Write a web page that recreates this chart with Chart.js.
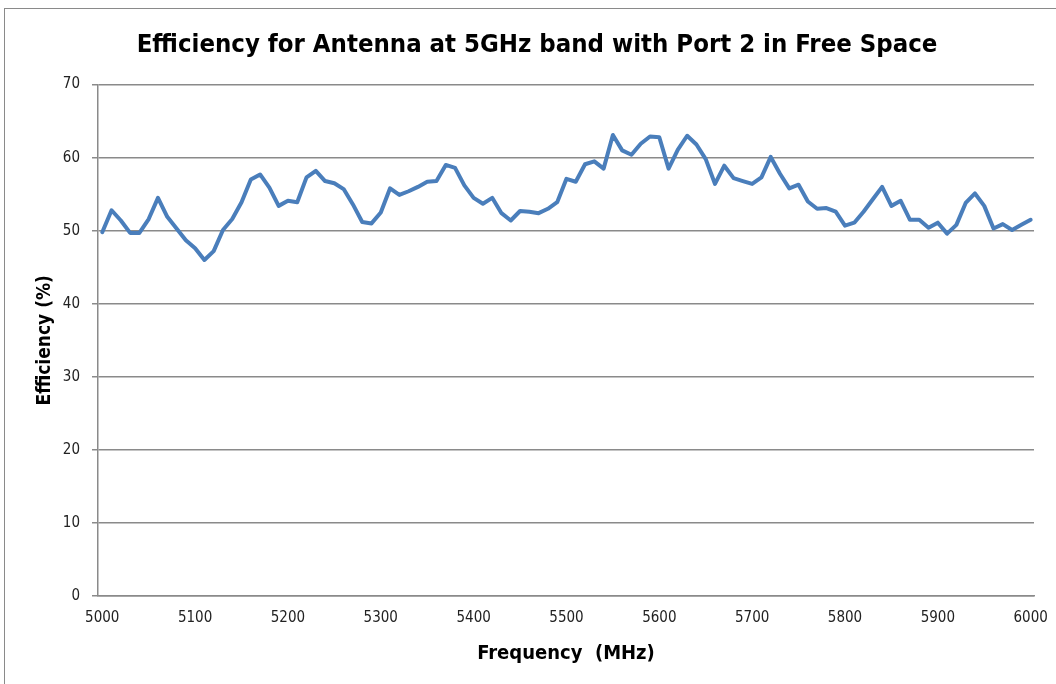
<!DOCTYPE html>
<html>
<head>
<meta charset="utf-8">
<script src="https://cdn.jsdelivr.net/npm/chart.js@4/dist/chart.umd.min.js"></script>
<style>
  html, body { margin: 0; padding: 0; background: #fff; overflow: hidden; }
  #wrap { position: relative; width: 1056px; height: 684px; }
  #frame { position: absolute; left: 4px; top: 8px; width: 1200px; height: 800px; border: 1px solid #8a8a8a; }
  #chart { position: absolute; left: 0; top: 0; }
</style>
</head>
<body>
<div id="wrap">
  <div id="frame"></div>
  <canvas id="chart" width="1056" height="684"></canvas>
</div>
<script>
// frequency points (MHz)
const freqs = [
  5000, 5010, 5020, 5030, 5040, 5050, 5060, 5070, 5080, 5090,
  5100, 5110, 5120, 5130, 5140, 5150, 5160, 5170, 5180, 5190,
  5200, 5210, 5220, 5230, 5240, 5250, 5260, 5270, 5280, 5290,
  5300, 5310, 5320, 5330, 5340, 5350, 5360, 5370, 5380, 5390,
  5400, 5410, 5420, 5430, 5440, 5450, 5460, 5470, 5480, 5490,
  5500, 5510, 5520, 5530, 5540, 5550, 5560, 5570, 5580, 5590,
  5600, 5610, 5620, 5630, 5640, 5650, 5660, 5670, 5680, 5690,
  5700, 5710, 5720, 5730, 5740, 5750, 5760, 5770, 5780, 5790,
  5800, 5810, 5820, 5830, 5840, 5850, 5860, 5870, 5880, 5890,
  5900, 5910, 5920, 5930, 5940, 5950, 5960, 5970, 5980, 5990,
  6000
];

// efficiency (%)
const efficiency = [
  49.8, 52.8, 51.4, 49.7, 49.7, 51.6, 54.5, 51.9, 50.3, 48.7,
  47.6, 46.0, 47.2, 50.1, 51.6, 53.9, 57.0, 57.7, 55.9, 53.4,
  54.1, 53.9, 57.3, 58.2, 56.8, 56.5, 55.7, 53.6, 51.2, 51.0,
  52.5, 55.8, 54.9, 55.4, 56.0, 56.7, 56.8, 59.0, 58.6, 56.2,
  54.5, 53.7, 54.5, 52.4, 51.4, 52.7, 52.6, 52.4, 53.0, 53.9,
  57.1, 56.7, 59.1, 59.5, 58.5, 63.1, 61.0, 60.4, 61.9, 62.9,
  62.8, 58.5, 61.1, 63.0, 61.8, 59.8, 56.4, 58.9, 57.2, 56.8,
  56.4, 57.3, 60.1, 57.8, 55.8, 56.3, 54.0, 53.0, 53.1, 52.6,
  50.7, 51.1, 52.6, 54.3, 56.0, 53.4, 54.1, 51.5, 51.5, 50.4,
  51.1, 49.6, 50.8, 53.8, 55.1, 53.4, 50.3, 50.9, 50.1, 50.8,
  51.5
];

const xTicks = [5000, 5100, 5200, 5300, 5400, 5500, 5600, 5700, 5800, 5900, 6000];
const yTicks = [0, 10, 20, 30, 40, 50, 60, 70];

const fontFam = '"DejaVu Sans Condensed", "Liberation Sans Narrow", sans-serif';
const gridGray = '#8a8a8a';

const ctx = document.getElementById('chart').getContext('2d');
new Chart(ctx, {
  type: 'line',
  data: {
    datasets: [{
      label: 'Efficiency',
      data: freqs.map((f, i) => ({ x: f, y: efficiency[i] })),
      borderColor: '#4a7ebb',
      borderWidth: 4,
      pointRadius: 0,
      tension: 0,
      borderJoinStyle: 'round',
      borderCapStyle: 'round'
    }]
  },
  options: {
    responsive: false,
    animation: false,
    devicePixelRatio: 1,
    // left padding keeps the title centred where the original has it
    layout: { padding: { left: 40, right: 22, top: 0, bottom: 0 } },
    plugins: {
      legend: { display: false },
      tooltip: { enabled: false },
      title: {
        display: true,
        text: 'Efficiency for Antenna at 5GHz band with Port 2 in Free Space',
        color: '#000',
        font: { family: fontFam, size: 25.5, weight: 'bold' },
        padding: { top: 30, bottom: 24 }
      }
    },
    scales: {
      x: {
        type: 'linear',
        min: 4995.4,
        max: 6003.6,
        afterBuildTicks: s => { s.ticks = xTicks.map(v => ({ value: v })); },
        afterFit: s => { s.height = 88; s.paddingLeft = 0; s.paddingRight = 0; },
        grid: { display: false, drawTicks: false },
        border: { display: true, color: gridGray, width: 1.5 },
        ticks: {
          color: '#222',
          padding: 13,
          maxRotation: 0,
          font: { family: fontFam, size: 15 },
          callback: v => String(v)
        },
        title: {
          display: true,
          text: 'Frequency  (MHz)',
          color: '#000',
          font: { family: fontFam, size: 20, weight: 'bold' },
          padding: { top: 0, bottom: 18 }
        }
      },
      y: {
        min: 0,
        max: 70,
        afterBuildTicks: s => { s.ticks = yTicks.map(v => ({ value: v })); },
        afterFit: s => { s.width = 58; s.paddingTop = 0; s.paddingBottom = 0; },
        grid: { color: gridGray, lineWidth: 1.5, tickLength: 6, drawTicks: true },
        border: { display: true, color: gridGray, width: 1.5 },
        ticks: {
          color: '#222',
          padding: 12,
          font: { family: fontFam, size: 15 }
        },
        title: {
          display: true,
          text: 'Efficiency (%)',
          color: '#000',
          font: { family: fontFam, size: 19, weight: 'bold' },
          padding: { top: -6, bottom: 0 }
        }
      }
    }
  }
});
</script>
</body>
</html>
